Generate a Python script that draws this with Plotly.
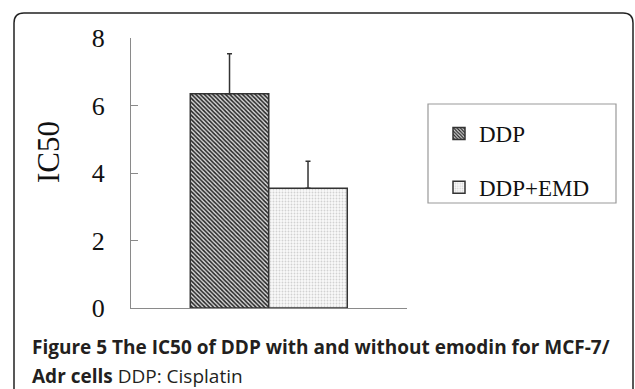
import plotly.graph_objects as go

# ---- data ----
groups = ["DDP", "DDP+EMD"]
ic50 = [6.35, 3.55]
err_up = [1.18, 0.80]
y_ticks = [0, 2, 4, 6, 8]
y_label = "IC50"
caption1 = "Figure 5 The IC50 of DDP with and without emodin for MCF-7/"
caption2_bold = "Adr cells"
caption2_rest = " DDP: Cisplatin"

W, H = 635, 389
L, R, T, B = 131, 407, 38, 308   # plot area pixels
XR = [-1.255, 2.261]

def px(x):
    return (x - L) / (R - L)

def py(y):
    return (B - y) / (B - T)

patterns = [
    dict(shape="\\", size=3, solidity=0.5, fgcolor="#222222", bgcolor="#d8d8d8", fillmode="replace"),
    dict(shape=".", size=3, solidity=0.3, fgcolor="#d2d2d2", bgcolor="#fafafa", fillmode="replace"),
]

fig = go.Figure()
for i, g in enumerate(groups):
    fig.add_trace(go.Bar(
        x=[i], y=[ic50[i]], name=g, width=1.0,
        legendgroup=g,
        marker=dict(color="#fbfbfb", pattern=patterns[i],
                    line=dict(color="#333333", width=1.5)),
        error_y=dict(type="data", symmetric=False, array=[err_up[i]], arrayminus=[0],
                     color="#333333", thickness=1.5, width=2.5),
    ))

fig.update_layout(
    width=W, height=H,
    margin=dict(l=L, r=W - R, t=T, b=H - B, pad=0),
    paper_bgcolor="white", plot_bgcolor="white",
    barmode="overlay",
    showlegend=True,
    legend=dict(x=px(439), y=py(112), xanchor="left", yanchor="top",
                font=dict(family="Liberation Serif", size=23, color="#111"),
                bgcolor="rgba(0,0,0,0)", borderwidth=0, tracegroupgap=21,
                itemwidth=30),
    xaxis=dict(range=XR, showgrid=False, zeroline=False, showline=True,
               linecolor="#8a8a8a", linewidth=1.2,
               tickvals=[XR[0], XR[1]], ticktext=["", ""], ticks="inside",
               ticklen=9, tickcolor="#8a8a8a", tickwidth=1.2),
    yaxis=dict(range=[0, 8], tickvals=y_ticks, showgrid=False, zeroline=False,
               showline=True, linecolor="#8a8a8a", linewidth=1.2,
               ticks="inside", ticklen=7, tickcolor="#8a8a8a", tickwidth=1.2,
               ticklabelstandoff=20,
               tickfont=dict(family="Liberation Serif", size=26, color="#111")),
)

# y-axis title
fig.add_annotation(text=y_label, xref="paper", yref="paper", x=px(48), y=py(152),
                   xanchor="center", yanchor="middle", textangle=-90, showarrow=False,
                   font=dict(family="Liberation Serif", size=31, color="#111"))

# legend box
fig.add_shape(type="rect", xref="paper", yref="paper",
              x0=px(428), x1=px(616), y0=py(203), y1=py(104),
              line=dict(color="#999999", width=1.2), fillcolor="rgba(0,0,0,0)")

# outer rounded frame
r = 10
fx0, fx1, fy0, fyb = 14, 633, 13, 400
path = (f"M {px(fx0)} {py(fyb)} L {px(fx0)} {py(fy0 + r)} "
        f"Q {px(fx0)} {py(fy0)} {px(fx0 + r)} {py(fy0)} "
        f"L {px(fx1 - r)} {py(fy0)} "
        f"Q {px(fx1)} {py(fy0)} {px(fx1)} {py(fy0 + r)} "
        f"L {px(fx1)} {py(fyb)}")
fig.add_shape(type="path", xref="paper", yref="paper", path=path,
              line=dict(color="#222222", width=1.5))

# caption
fig.add_annotation(text=f"<b>{caption1}</b>", xref="paper", yref="paper",
                   x=px(30), y=py(347), xanchor="left", yanchor="middle", showarrow=False,
                   font=dict(family="Open Sans", size=19, color="#231f20"))
fig.add_annotation(text=f"<b>{caption2_bold}</b>{caption2_rest}", xref="paper", yref="paper",
                   x=px(30), y=py(376), xanchor="left", yanchor="middle", showarrow=False,
                   font=dict(family="Open Sans", size=19, color="#231f20"))

fig.write_html("out.html")
